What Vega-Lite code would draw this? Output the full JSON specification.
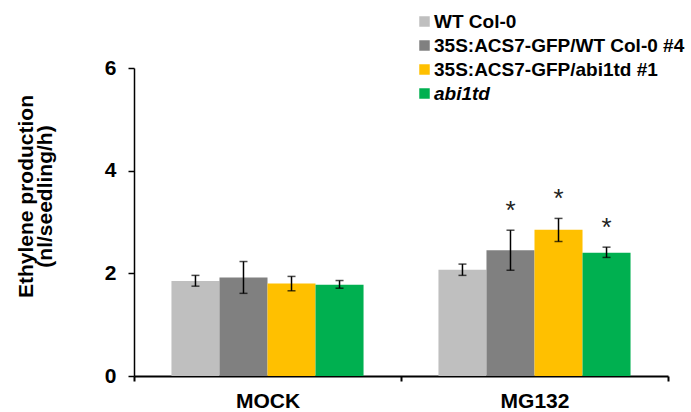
{
  "$schema": "https://vega.github.io/schema/vega-lite/v6.json",
  "autosize": {"type": "none"},
  "width": 534,
  "height": 308,
  "padding": {"left": 134, "top": 68, "right": 23, "bottom": 36},
  "background": "white",
  "config": {
    "view": {"stroke": null},
    "font": "Liberation Sans"
  },
  "data": {
    "values": [
      {"treatment": "MOCK", "genotype": "WT Col-0", "mean": 1.85, "lo": 1.75, "hi": 1.96, "sig": ""},
      {"treatment": "MOCK", "genotype": "35S:ACS7-GFP/WT Col-0 #4", "mean": 1.92, "lo": 1.61, "hi": 2.23, "sig": ""},
      {"treatment": "MOCK", "genotype": "35S:ACS7-GFP/abi1td #1", "mean": 1.80, "lo": 1.66, "hi": 1.94, "sig": ""},
      {"treatment": "MOCK", "genotype": "abi1td", "mean": 1.78, "lo": 1.71, "hi": 1.86, "sig": ""},
      {"treatment": "MG132", "genotype": "WT Col-0", "mean": 2.07, "lo": 1.96, "hi": 2.18, "sig": ""},
      {"treatment": "MG132", "genotype": "35S:ACS7-GFP/WT Col-0 #4", "mean": 2.45, "lo": 2.06, "hi": 2.84, "sig": "*"},
      {"treatment": "MG132", "genotype": "35S:ACS7-GFP/abi1td #1", "mean": 2.85, "lo": 2.62, "hi": 3.07, "sig": "*"},
      {"treatment": "MG132", "genotype": "abi1td", "mean": 2.40, "lo": 2.31, "hi": 2.51, "sig": "*"}
    ]
  },
  "encoding": {
    "x": {
      "field": "treatment",
      "type": "nominal",
      "sort": ["MOCK", "MG132"],
      "scale": {"paddingInner": 0, "paddingOuter": 0},
      "axis": {
        "title": null,
        "labelAngle": 0,
        "labelFont": "Liberation Sans",
        "labelFontSize": 21,
        "labelFontWeight": "bold",
        "labelColor": "black",
        "labelPadding": 9,
        "tickBand": "extent",
        "domainColor": "black",
        "domainWidth": 2,
        "tickColor": "black",
        "tickWidth": 2,
        "tickSize": 5,
        "grid": false
      }
    },
    "xOffset": {
      "field": "genotype",
      "type": "nominal",
      "sort": ["WT Col-0", "35S:ACS7-GFP/WT Col-0 #4", "35S:ACS7-GFP/abi1td #1", "abi1td"],
      "scale": {"paddingInner": 0, "paddingOuter": 0.78}
    }
  },
  "layer": [
    {
      "mark": {"type": "bar"},
      "encoding": {
        "y": {
          "field": "mean",
          "type": "quantitative",
          "scale": {"domain": [0, 6], "nice": false},
          "axis": {
            "values": [0, 2, 4, 6],
            "grid": false,
            "title": ["Ethylene production", "(nl/seedling/h)"],
            "titleFont": "Liberation Sans",
            "titleFontSize": 21,
            "titleFontWeight": "bold",
            "titleColor": "black",
            "titleAlign": "center",
            "titleBaseline": "middle",
            "titleLineHeight": 19,
            "titleX": -108,
            "titleY": 128,
            "labelFont": "Liberation Sans",
            "labelFontSize": 21,
            "labelFontWeight": "bold",
            "labelColor": "black",
            "labelPadding": 12,
            "domainColor": "black",
            "domainWidth": 1.5,
            "tickColor": "black",
            "tickWidth": 1.5,
            "tickSize": 6
          }
        },
        "color": {
          "field": "genotype",
          "type": "nominal",
          "sort": ["WT Col-0", "35S:ACS7-GFP/WT Col-0 #4", "35S:ACS7-GFP/abi1td #1", "abi1td"],
          "scale": {
            "domain": ["WT Col-0", "35S:ACS7-GFP/WT Col-0 #4", "35S:ACS7-GFP/abi1td #1", "abi1td"],
            "range": ["#BFBFBF", "#808080", "#FFC000", "#00B050"]
          },
          "legend": {
            "title": null,
            "orient": "none",
            "legendX": 281,
            "legendY": -56,
            "padding": 0,
            "symbolType": "square",
            "symbolSize": 110,
            "symbolStrokeWidth": 0,
            "labelFont": "Liberation Sans",
            "labelFontSize": 19,
            "labelFontWeight": "bold",
            "labelColor": "black",
            "labelOffset": 0,
            "labelLimit": 400,
            "rowPadding": 4,
            "encoding": {
              "labels": {
                "fontStyle": {
                  "condition": {"test": "datum.label === 'abi1td'", "value": "italic"},
                  "value": "normal"
                }
              }
            }
          }
        }
      }
    },
    {
      "mark": {"type": "rule", "color": "black", "strokeWidth": 1.5},
      "encoding": {
        "y": {"field": "lo", "type": "quantitative"},
        "y2": {"field": "hi"}
      }
    },
    {
      "mark": {"type": "tick", "color": "black", "thickness": 1.5, "size": 8, "orient": "horizontal"},
      "encoding": {
        "y": {"field": "lo", "type": "quantitative"}
      }
    },
    {
      "mark": {"type": "tick", "color": "black", "thickness": 1.5, "size": 8, "orient": "horizontal"},
      "encoding": {
        "y": {"field": "hi", "type": "quantitative"}
      }
    },
    {
      "mark": {"type": "text", "font": "Liberation Sans", "fontSize": 26, "color": "#222222", "baseline": "alphabetic", "dy": -11},
      "encoding": {
        "y": {"field": "hi", "type": "quantitative"},
        "text": {"field": "sig"}
      }
    }
  ]
}
